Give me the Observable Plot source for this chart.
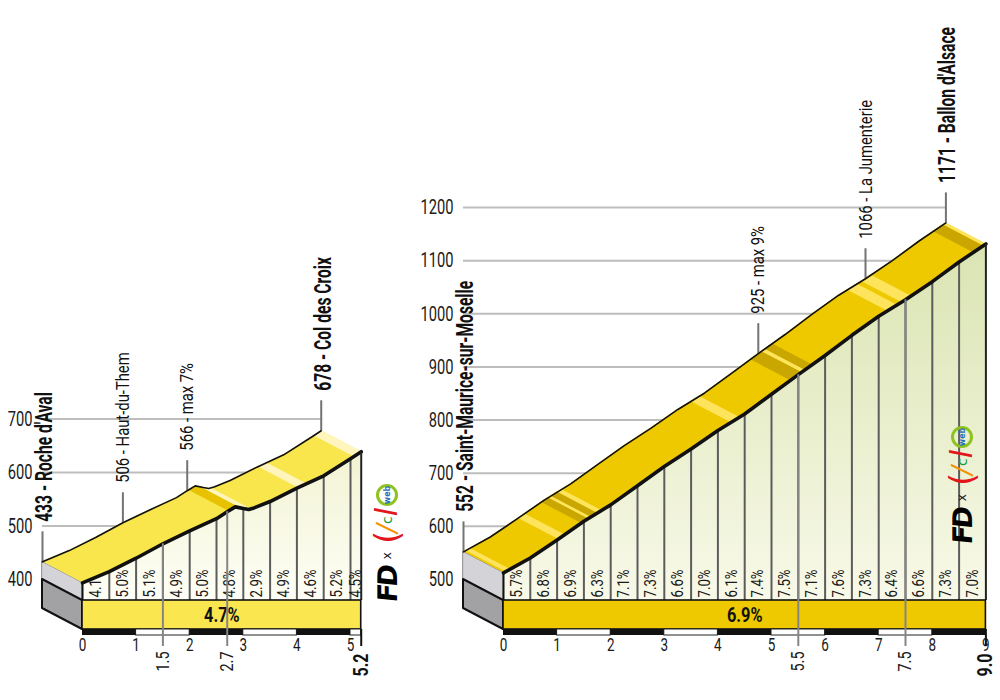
<!DOCTYPE html>
<html><head><meta charset="utf-8">
<script src="https://cdn.jsdelivr.net/npm/d3@7"></script>
<script src="https://cdn.jsdelivr.net/npm/@observablehq/plot@0.6"></script>
<style>
body{margin:0;background:#fff;}
#wrap{position:relative;width:1000px;height:700px;overflow:hidden;background:#fff;}
#wrap svg{position:absolute;left:0;top:0;}
.logo{position:absolute;width:132px;height:32px;transform:rotate(-90deg);transform-origin:50% 50%;display:flex;align-items:center;white-space:nowrap;font-family:"DejaVu Sans",sans-serif;}
.logo .fd{font-weight:bold;font-size:27px;letter-spacing:-3px;color:#000;transform:skewX(-6deg);}
.logo .x{font-size:12px;margin:0 8px 0 8px;color:#111;}
.logo .c1{font-size:34px;color:#e2161b;line-height:1;}
.logo .i{font-size:26px;color:#f39200;font-style:italic;line-height:1;margin-left:-2px;}
.logo .c2{font-size:14px;color:#1a9a3c;line-height:1;}
.logo .l{font-size:30px;color:#e2161b;font-style:italic;line-height:1;margin-right:2px;}
.logo .web{display:inline-flex;align-items:center;justify-content:center;width:22px;height:22px;border:3px solid #8dc21f;border-radius:50%;font-size:8px;font-weight:bold;color:#1d71b8;box-sizing:border-box;}
</style></head><body>
<div id="wrap"></div>
<script>
// ---------------- DATA ----------------
// Left climb: Col des Croix
const leftKm    = [0, 0.5, 1, 1.5, 2, 2.5, 2.7, 2.85, 3.0, 3.1, 3.2, 3.5, 4, 4.5, 5, 5.2];
const leftElev  = [433, 454, 479, 506, 530, 553, 566, 575, 572, 570, 573, 585, 610, 633, 665, 678];
const leftPct   = ["4.1%","5.0%","5.1%","4.9%","5.0%","4.8%","2.9%","4.9%","4.6%","5.2%","4.5%"];
const leftAvg   = "4.7%";
const leftTicks = [400, 500, 600, 700];
const leftKmTicks = [0, 1, 2, 3, 4, 5];
const leftPlaceKm   = [0, 1.5, 2.7, 5.2];
const leftPlaceElev = [433, 506, 566, 678];
const leftPlaceName = ["433 - Roche d'Aval", "506 - Haut-du-Them", "566 - max 7%", "678 - Col des Croix"];
const leftPlaceBold = [true, false, false, true];
const leftMarkKm    = [1.5, 2.7];
const leftBandFrom  = [2.72, 2.95, 4.02, 5.06];
const leftBandTo    = [2.95, 3.14, 4.18, 5.2];
const leftBandShade = ["dark", "light", "light", "light"];

// Right climb: Ballon d'Alsace
const rightKm    = [0, 0.5, 1, 1.5, 2, 2.5, 3, 3.5, 4, 4.5, 5, 5.5, 6, 6.5, 7, 7.5, 8, 8.5, 9];
const rightElev  = [552, 580, 614, 649, 680, 716, 752, 785, 820, 851, 888, 925, 961, 999, 1035, 1066, 1100, 1137, 1171];
const rightPct   = ["5.7%","6.8%","6.9%","6.3%","7.1%","7.3%","6.6%","7.0%","6.1%","7.4%","7.5%","7.1%","7.6%","7.3%","6.4%","6.6%","7.3%","7.0%"];
const rightAvg   = "6.9%";
const rightTicks = [500, 600, 700, 800, 900, 1000, 1100, 1200];
const rightKmTicks = [0, 1, 2, 3, 4, 5, 6, 7, 8, 9];
const rightPlaceKm   = [0, 5.5, 7.5, 9];
const rightPlaceElev = [552, 925, 1066, 1171];
const rightPlaceName = ["552 - Saint-Maurice-sur-Moselle", "925 - max 9%", "1066 - La Jumenterie", "1171 - Ballon d'Alsace"];
const rightPlaceBold = [true, false, false, true];
const rightMarkKm    = [5.5, 7.5];
const rightBandFrom  = [0.04, 1.02, 1.45, 1.58, 1.63, 1.75, 4.24, 5.35, 5.56, 5.62, 7.16, 7.42, 8.76, 8.95];
const rightBandTo    = [0.12, 1.14, 1.58, 1.63, 1.75, 1.83, 4.40, 5.56, 5.62, 5.76, 7.34, 7.60, 8.95, 9.0];
const rightBandShade = ["light","light","dark","light","dark","light","light","dark","light","dark","light","light","dark","light"];

// ---------------- DRAWING ----------------
const FONT = 'Roboto, "Noto Sans", sans-serif';
// condensed text: horizontal squeeze factor stored in aria-label, applied after render
const cond = f => () => "cond:" + f;

function elevAt(k, kms, elevs) {
  for (let i = 0; i < kms.length - 1; i++) {
    if (k <= kms[i + 1]) {
      const t = (k - kms[i]) / (kms[i + 1] - kms[i]);
      return elevs[i] + t * (elevs[i + 1] - elevs[i]);
    }
  }
  return elevs[elevs.length - 1];
}

function profileChart(d, L) {
  const prof = d.km.map((k, i) => ({km: k, elev: d.elev[i]}));
  const end = d.km[d.km.length - 1];
  const startElev = d.elev[0], endElev = d.elev[d.elev.length - 1];
  const pxKm = L.pxKm, pxM = L.pxM;
  const OX = L.offX / pxKm, OY = L.offY / pxM;
  const base = d.ticks[0], top = d.ticks[d.ticks.length - 1];
  const fb = base - OY;                      // bottom of front face
  const barB = fb - L.barH / pxM;            // bottom of average bar
  const stripB = barB - L.stripH / pxM;      // bottom of km stripe
  const tickEnd = stripB - L.tickLen / pxM;  // end of marker ticks
  const E = k => elevAt(k, d.km, d.elev);
  const P = k => ({km: k, elev: E(k)});
  const segs = d.pct.map((t, i) => ({t, a: i * 0.5, b: Math.min((i + 1) * 0.5, end)}));
  const seps = segs.slice(0, -1).map(s => s.b);
  const kmSegs = d3.range(Math.ceil(end)).map(k => ({k, a: k, b: Math.min(k + 1, end)}));
  const places = d.placeKm.map((k, i) => ({km: k, elev: d.placeElev[i], name: d.placeName[i], bold: d.placeBold[i]}));
  const markers = d.markKm.map(k => ({km: k, elev: E(k), label: k.toFixed(1)}));
  const bands = d.bandFrom.map((f, i) => ({from: f, to: d.bandTo[i], shade: d.bandShade[i]}));
  const bandPts = b => [P(b.from), ...prof.filter(p => p.km > b.from && p.km < b.to), P(b.to)];
  const fx = p => p.km + OX, fy = p => p.elev - OY;
  const C = L.colors;

  const marks = [
    // gridlines
    Plot.ruleY(d.ticks, {y: v => v, x1: 0, x2: end, stroke: "#bdbdbd", strokeWidth: 2}),
    // y tick labels
    Plot.text(d.ticks, {x: 0, y: v => v, text: v => String(v), dx: -10, textAnchor: "end", fontSize: 21, fontFamily: FONT, fill: "#1a1a1a", ariaLabel: cond(0.7)}),
    // place leader lines
    Plot.ruleX(places, {x: "km", y1: "elev", y2: p => p.elev + L.leadLen / pxM, stroke: "#737373", strokeWidth: 2}),
    // place labels
    Plot.text(places.filter(p => p.bold), {x: "km", y: "elev", text: "name", rotate: -90, textAnchor: "start", dy: -(L.leadLen + L.leadGap), dx: 2, fontSize: 23, fontWeight: "bold", fontFamily: FONT, fill: "#111", ariaLabel: cond(0.68)}),
    Plot.text(places.filter(p => !p.bold), {x: "km", y: "elev", text: "name", rotate: -90, textAnchor: "start", dy: -(L.leadLen + L.leadGap), fontSize: 19, fontFamily: FONT, fill: "#111", ariaLabel: cond(0.78)}),
    // side face (light part)
    Plot.area([{k: 0, e1: base, e2: startElev}, {k: OX, e1: fb, e2: startElev - OY}], {x1: "k", y1: "e1", x2: "k", y2: "e2", fill: "#d4d4d8", stroke: "#8a8a8a", strokeWidth: 1}),
    // side face (dark part)
    Plot.area([{k: 0, e1: base - L.barH / pxM, e2: base}, {k: OX, e1: barB, e2: fb}], {x1: "k", y1: "e1", x2: "k", y2: "e2", fill: "#a2a2a5", stroke: "#111", strokeWidth: 2, strokeLinejoin: "round"}),
    // front face
    Plot.areaY(prof, {x: fx, y1: fb, y2: fy, fill: `url(#${L.id})`}),
    // 500 m separators
    Plot.ruleX(seps, {x: s => s + OX, y1: s => E(s) - OY, y2: fb, stroke: "#5c5c5c", strokeWidth: 2}),
    // gradient labels
    Plot.text(segs, {x: s => (s.a + s.b) / 2 + OX, y: fb, text: "t", rotate: -90, textAnchor: "start", dy: -3, fontSize: 16.5, fontFamily: FONT, fill: "#1a1a1a", ariaLabel: cond(0.8)}),
    // top surface
    Plot.area(prof, {x1: "km", y1: "elev", x2: fx, y2: fy, fill: C.top}),
    // shading bands on the top surface
    ...bands.map(b => Plot.area(bandPts(b), {x1: "km", y1: "elev", x2: fx, y2: fy, fill: b.shade === "dark" ? C.dark : C.light})),
    // left edge of the front face
    Plot.ruleX([0], {x: OX, y1: startElev - OY, y2: fb, stroke: "#111", strokeWidth: 2}),
    // back edge and front edge of the road
    Plot.line(prof, {x: "km", y: "elev", stroke: "#111", strokeWidth: 1.6, strokeLinejoin: "round"}),
    Plot.line(prof, {x: fx, y: fy, stroke: "#111", strokeWidth: 3.6, strokeLinejoin: "round", strokeLinecap: "round"}),
    // right edge
    Plot.ruleX([end], {x: end + OX, y1: endElev - OY, y2: fb, stroke: "#222", strokeWidth: 2}),
    // average bar
    Plot.rect([d.avg], {x1: OX, x2: end + OX, y1: barB, y2: fb, fill: C.bar, stroke: "#111", strokeWidth: 1.6}),
    Plot.text([d.avg], {x: end / 2 + OX, y: (barB + fb) / 2, text: t => t, fontSize: 21, fontWeight: "bold", fontFamily: FONT, fill: "#111", ariaLabel: cond(0.78)}),
    // km stripe
    Plot.rect(kmSegs.filter(s => s.k % 2 === 1 || s.b - s.a < 1), {x1: s => s.a + OX, x2: s => s.b + OX, y1: stripB, y2: barB, fill: "#fff", stroke: "#222", strokeWidth: 1}),
    Plot.rect(kmSegs.filter(s => s.k % 2 === 0 && s.b - s.a >= 1), {x1: s => s.a + OX, x2: s => s.b + OX, y1: stripB, y2: barB, fill: "#111"}),
    // km labels
    Plot.text(d.kmTicks, {x: k => k + OX, y: stripB, text: k => String(k), dy: 10, fontSize: 18, fontFamily: FONT, fill: "#1a1a1a", ariaLabel: cond(0.75)}),
    // markers below
    Plot.ruleX(markers, {x: fx, y1: fy, y2: tickEnd, stroke: "#858585", strokeWidth: 2}),
    Plot.text(markers, {x: fx, y: stripB, text: "label", rotate: -90, textAnchor: "end", dy: 16, fontSize: 18, fontFamily: FONT, fill: "#1a1a1a", ariaLabel: cond(0.8)}),
    Plot.ruleX([end], {x: end + OX, y1: barB, y2: tickEnd, stroke: "#111", strokeWidth: 2}),
    Plot.text([end], {x: end + OX, y: stripB, text: k => k.toFixed(1), rotate: -90, textAnchor: "end", dy: 18, fontSize: 20, fontWeight: "bold", fontFamily: FONT, fill: "#111", ariaLabel: cond(0.8)})
  ];

  const svg = Plot.plot({
    width: 1000, height: 700, margin: 0,
    x: {domain: [0, end], range: [L.x0, L.x0 + end * pxKm], axis: null},
    y: {domain: [base, top], range: [L.y0, L.y0 - (top - base) * pxM], axis: null},
    style: {background: "transparent", overflow: "visible"},
    marks
  });
  const defs = d3.select(svg).insert("defs", ":first-child");
  const g = defs.append("linearGradient").attr("id", L.id).attr("x1", 0).attr("y1", 0).attr("x2", 0).attr("y2", 1);
  g.append("stop").attr("offset", "0%").attr("stop-color", C.faceTop);
  g.append("stop").attr("offset", "100%").attr("stop-color", C.faceBottom);
  return svg;
}

// squeeze text along its reading direction (condensed look)
function condense(svg) {
  svg.querySelectorAll("text[aria-label^='cond:']").forEach(t => {
    const f = parseFloat(t.getAttribute("aria-label").slice(5));
    const tr = t.getAttribute("transform");
    if (tr) {
      t.setAttribute("transform", `${tr} scale(${f},1)`);
    } else {
      const n = t.getComputedTextLength();
      if (n > 0) {
        t.setAttribute("textLength", (n * f).toFixed(2));
        t.setAttribute("lengthAdjust", "spacingAndGlyphs");
      }
    }
  });
}

const wrap = document.getElementById("wrap");
const svgL = profileChart(
  {km: leftKm, elev: leftElev, pct: leftPct, avg: leftAvg, ticks: leftTicks, kmTicks: leftKmTicks,
   placeKm: leftPlaceKm, placeElev: leftPlaceElev, placeName: leftPlaceName, placeBold: leftPlaceBold,
   markKm: leftMarkKm, bandFrom: leftBandFrom, bandTo: leftBandTo, bandShade: leftBandShade},
  {id: "faceL", x0: 42, y0: 579, pxKm: 53.6, pxM: 0.535, offX: 40, offY: 21, barH: 29, stripH: 6, tickLen: 11, leadLen: 30, leadGap: 10,
   colors: {top: "#f9e54c", dark: "#e6c200", light: "#fff5bd", bar: "#fae64e", faceTop: "#f2f3d3", faceBottom: "#fefef6"}});
const svgR = profileChart(
  {km: rightKm, elev: rightElev, pct: rightPct, avg: rightAvg, ticks: rightTicks, kmTicks: rightKmTicks,
   placeKm: rightPlaceKm, placeElev: rightPlaceElev, placeName: rightPlaceName, placeBold: rightPlaceBold,
   markKm: rightMarkKm, bandFrom: rightBandFrom, bandTo: rightBandTo, bandShade: rightBandShade},
  {id: "faceR", x0: 463, y0: 579, pxKm: 53.6, pxM: 0.5314, offX: 40, offY: 21, barH: 29, stripH: 6, tickLen: 11, leadLen: 30, leadGap: 10,
   colors: {top: "#efc900", dark: "#c9a700", light: "#fde45c", bar: "#eec900", faceTop: "#dae4b2", faceBottom: "#f8f9e8"}});
wrap.appendChild(svgL);
wrap.appendChild(svgR);
condense(svgL);
condense(svgR);

// logos (FD x cicl web)
function logo(cx, cy) {
  const el = document.createElement("div");
  el.className = "logo";
  el.style.left = (cx - 66) + "px";
  el.style.top = (cy - 16) + "px";
  el.innerHTML = '<span class="fd">FD</span><span class="x">x</span><span class="c1">(</span><span class="i">/</span><span class="c2">c</span><span class="l">l</span><span class="web">web</span>';
  wrap.appendChild(el);
}
logo(387, 536);
logo(962, 478);
</script>
</body></html>
